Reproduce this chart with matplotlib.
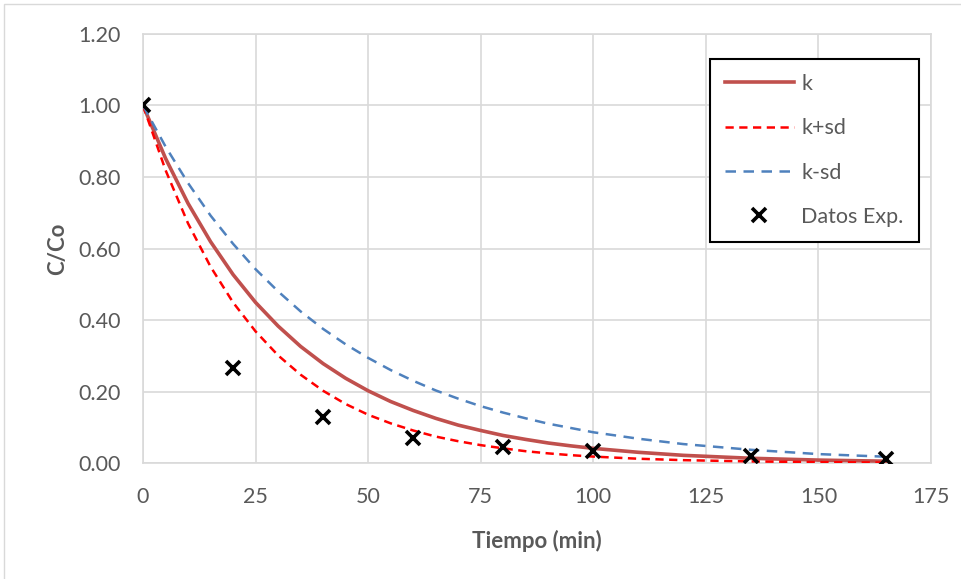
import matplotlib
matplotlib.use('Agg')
import matplotlib.pyplot as plt
from matplotlib.patches import Rectangle

# model curves
t_fit = [0, 5, 10, 15, 20, 25, 30, 35, 40, 45, 50, 55, 60, 65, 70, 75, 80, 85, 90, 95, 100,
         110, 120, 135, 150, 165]
c_k = [1.000, 0.852, 0.726, 0.619, 0.527, 0.449, 0.383, 0.326, 0.278, 0.237, 0.202, 0.172,
       0.147, 0.125, 0.106, 0.091, 0.077, 0.066, 0.056, 0.048, 0.041,
       0.030, 0.0215, 0.0133, 0.0082, 0.0051]
c_k_plus = [1.000, 0.819, 0.670, 0.549, 0.449, 0.368, 0.301, 0.247, 0.202, 0.165, 0.135, 0.111,
            0.091, 0.074, 0.061, 0.050, 0.041, 0.033, 0.027, 0.022, 0.018,
            0.012, 0.008, 0.0045, 0.0025, 0.0014]
c_k_minus = [1.000, 0.885, 0.783, 0.692, 0.613, 0.542, 0.480, 0.424, 0.375, 0.332, 0.294, 0.260,
             0.230, 0.203, 0.180, 0.159, 0.141, 0.125, 0.110, 0.098, 0.086,
             0.068, 0.053, 0.037, 0.025, 0.0176]

# experimental data
t_exp = [0, 20, 40, 60, 80, 100, 135, 165]
c_exp = [1.000, 0.267, 0.129, 0.070, 0.045, 0.034, 0.020, 0.011]

x_ticks = [0, 25, 50, 75, 100, 125, 150, 175]
y_ticks = [0.0, 0.2, 0.4, 0.6, 0.8, 1.0, 1.2]

plt.rcParams['font.family'] = ['Lato', 'DejaVu Sans']

fig = plt.figure(figsize=(9.62, 5.79), dpi=100)
ax = fig.add_axes([0.1487, 0.2003, 0.8191, 0.7410])

ax.plot(t_fit, c_k, color='#C0504D', lw=2.6, label='k', zorder=3)
ax.plot(t_fit, c_k_plus, color='#FF0000', lw=1.8, ls=(0, (3.3, 2.2)), label='k+sd', zorder=3)
ax.plot(t_fit, c_k_minus, color='#4F81BD', lw=1.8, ls=(0, (4.2, 3.0)), label='k-sd', zorder=3)
ax.plot(t_exp, c_exp, ls='none', marker='x', ms=10.5, mew=2.6, color='black',
        label='Datos Exp.', zorder=4)

ax.set_xlim(0, 175)
ax.set_ylim(0, 1.2)
ax.set_xticks(x_ticks)
ax.set_yticks(y_ticks)
ax.set_yticklabels([f'{v:.2f}' for v in y_ticks])
ax.tick_params(length=0, labelsize=15.5, colors='#595959')
ax.tick_params(axis='y', pad=16)
ax.tick_params(axis='x', pad=17)
ax.grid(True, color='#D9D9D9', lw=1.2)
ax.set_axisbelow(True)
for s in ax.spines.values():
    s.set_color('#D9D9D9')
    s.set_linewidth(1.2)

ax.set_xlabel('Tiempo (min)', fontsize=16, fontweight='bold', color='#595959', labelpad=17)
ax.set_ylabel('C/Co', fontsize=16, fontweight='bold', color='#595959', labelpad=7)

leg = ax.legend(loc='upper left', bbox_to_anchor=(0.719, 0.942), borderaxespad=0,
                fontsize=15.5, labelspacing=1.13, handlelength=3.2, handletextpad=0.35,
                borderpad=0.7, fancybox=False, framealpha=1, edgecolor='black')
leg.get_frame().set_linewidth(1.5)
for txt in leg.get_texts():
    txt.set_color('#595959')

# outer chart border (only top and left edges fall inside the image)
fig.patches.append(Rectangle((0.004, -0.05), 1.1, 1.043, transform=fig.transFigure,
                             fill=False, edgecolor='#D9D9D9', lw=1))

fig.savefig('out.png', dpi=100)
